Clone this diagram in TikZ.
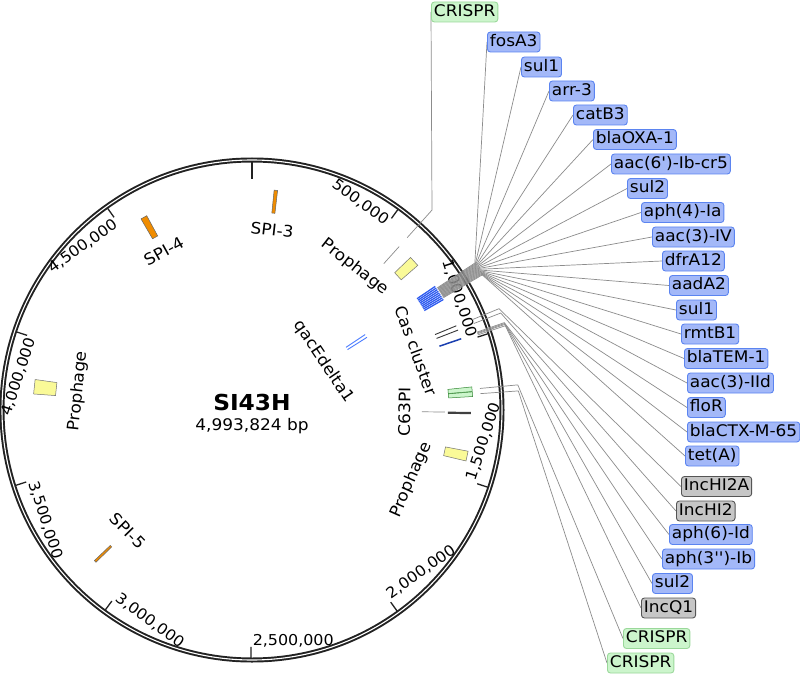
\documentclass[tikz,border=0pt]{standalone}
\usepackage{fontspec}
\newfontfamily\lab[FakeStretch=1.06]{DejaVu Sans}
\pgfdeclarelayer{ringlayer}
\pgfdeclarelayer{leaders}
\pgfsetlayers{ringlayer,leaders,main}
\definecolor{amrfill}{HTML}{A3B8F8}
\definecolor{amrdraw}{HTML}{5B84F0}
\definecolor{repfill}{HTML}{C6C6C6}
\definecolor{repdraw}{HTML}{555555}
\definecolor{crfill}{HTML}{CCF5CC}
\definecolor{crdraw}{HTML}{9AD89A}
\definecolor{spi}{HTML}{F08C00}
\definecolor{proph}{HTML}{FAFA98}
\definecolor{casblue}{HTML}{2E5BF0}
\definecolor{qacblue}{HTML}{4A7CFF}
\definecolor{darkblue}{HTML}{1A3FB0}
\definecolor{leadgray}{HTML}{8C8C8C}
\definecolor{ringblack}{HTML}{222222}
\newcommand{\radbox}[5]{\filldraw[#1] ({90-(#2)+(#3)}:#4) -- ({90-(#2)+(#3)}:#5) -- ({90-(#2)-(#3)}:#5) -- ({90-(#2)-(#3)}:#4) -- cycle;}
\newcommand{\radline}[4]{\draw[#1] ({90-(#2)}:#3) -- ({90-(#2)}:#4);}
\tikzset{
  lbox/.style={font=\lab\fontsize{16}{19}\selectfont, rounded corners=3pt, line width=0.9pt,
    inner xsep=2.5pt, inner ysep=0pt, minimum height=20pt, anchor=west, text height=12pt, text depth=3.5pt},
  amr/.style={lbox, fill=amrfill, draw=amrdraw},
  rep/.style={lbox, fill=repfill, draw=repdraw},
  cris/.style={lbox, fill=crfill, draw=crdraw},
  ticklab/.style={font=\lab\fontsize{15}{18}\selectfont, inner xsep=1.5pt, inner ysep=0pt, text height=11pt, text depth=3pt},
  featlab/.style={font=\lab\fontsize{16}{19}\selectfont, inner sep=0pt, text height=12pt, text depth=3.5pt},
  leader/.style={draw=leadgray, line width=0.7pt},
  spibox/.style={fill=spi, draw=black!60, line width=0.5pt},
  prophbox/.style={fill=proph, draw=black!55, line width=0.5pt},
  crbox/.style={fill=crfill, draw=black!45!green!60!gray, line width=0.5pt},
}
\begin{document}
\begin{tikzpicture}[x=1pt,y=1pt]
\useasboundingbox (-252,-265) rectangle (548,410);
\begin{pgfonlayer}{ringlayer}
  \fill[white] (-252,-265) rectangle (548,410);
  % backbone ring
  \draw[line width=5pt, ringblack] (0,0) circle[radius=250];
  \draw[line width=1.1pt, white] (0,0) circle[radius=250];
  % ticks
  \draw[line width=2.4pt, ringblack] (90:231) -- (90:249);
  \foreach \k in {1,...,9}{
    \pgfmathsetmacro\ang{\k*36.04452}
    \draw[line width=1.3pt, ringblack] ({90-\ang}:237) -- ({90-\ang}:248);
  }
  % tick labels
  \node[ticklab, anchor=east, rotate=-36.045] (t1) at ({90-36.045}:231) {500,000};
  \node[ticklab, anchor=east, rotate=-72.09] (t2) at ({90-72.09}:231) {1,000,000};
  \node[ticklab, anchor=west, rotate=71.87] (t3) at ({90-108.13}:231) {1,500,000};
  \node[ticklab, anchor=west, rotate=35.82] (t4) at ({90-144.18}:231) {2,000,000};
  \node[ticklab, anchor=west, rotate=-0.22] (t5) at ({90-180.22}:231) {2,500,000};
  \node[ticklab, anchor=west, rotate=-36.27] (t6) at ({90-216.27}:231) {3,000,000};
  \node[ticklab, anchor=west, rotate=-72.31] (t7) at ({90-252.31}:231) {3,500,000};
  \node[ticklab, anchor=east, rotate=71.64] (t8) at ({90-288.36}:231) {4,000,000};
  \node[ticklab, anchor=east, rotate=35.6] (t9) at ({90-324.4}:231) {4,500,000};
  % features
  \radbox{spibox}{6.2}{0.45}{198}{221}
  \radbox{spibox}{330.7}{0.85}{198}{221}
  \radbox{spibox}{226}{0.3}{196}{218}
  \radbox{prophbox}{276.1}{1.9}{197}{219}
  \radbox{prophbox}{47.5}{1.4}{198}{220}
  \radbox{prophbox}{102.1}{1.3}{197}{220}
  \foreach \a in {56.0,56.5,...,60.0}{\radline{casblue, line width=1.3pt}{\a}{199}{221}}
  \radline{black!78, line width=0.9pt}{67.6}{198}{221}
  \radline{black!78, line width=0.9pt}{68.8}{198}{221}
  \radline{darkblue, line width=1.5pt}{71.2}{198}{221}
  \radline{qacblue, line width=0.9pt}{56.3}{113}{136}
  \radline{qacblue, line width=0.9pt}{57.7}{113}{136}
  \radbox{crbox}{84.6}{0.6}{197}{221}
  \radbox{crbox}{85.9}{0.6}{197}{221}
  \radline{black!75, line width=2.2pt}{90.8}{196}{219}
  \radline{leadgray, line width=0.7pt}{42}{197}{220}
  \radline{leadgray, line width=0.7pt}{90.6}{170}{193}
  % feature labels
  \node[featlab, rotate=-6.4] (lspi3) at ({90-6.4}:179.6) {SPI-3};
  \node[featlab, rotate=29.05] (lspi4) at ({90-330.95}:180) {SPI-4};
  \node[featlab, rotate=83.8] (lpro1) at ({90-276.2}:174.5) {Prophage};
  \node[featlab, rotate=-45.7] (lspi5) at ({90-225.7}:175) {SPI-5};
  \node[featlab, rotate=-38] (lpro2) at ({90-35.8}:176) {Prophage};
  \node[featlab, rotate=-70.1] (lcas) at ({90-70.1}:173) {Cas cluster};
  \node[featlab, rotate=89.3] (lc63) at ({90-90.7}:154) {C63PI};
  \node[featlab, rotate=66.3] (lpro3) at ({90-113.7}:174) {Prophage};
  \node[featlab, rotate=-56] (lqac) at ({90-56}:86) {qacEdelta1};
  % title
  \node[font=\lab\bfseries\fontsize{22}{26}\selectfont, inner sep=0pt] (title) at (0,7.5) {SI43H};
  \node[font=\lab\fontsize{16}{19}\selectfont, inner sep=0pt, anchor=base] (size) at (0,-20) {4,993,824 bp};
\end{pgfonlayer}
% right-hand labels
\node[cris] (cr1) at (179,398) {CRISPR};
\node[amr] (fosA) at (235,368) {fosA3};
\node[amr] (sulA) at (269,343) {sul1};
\node[amr] (arr) at (297,319) {arr-3};
\node[amr] (cat) at (321,295) {catB3};
\node[amr] (oxa) at (341,270.5) {blaOXA-1};
\node[amr] (aacsix) at (359,246) {aac(6')-Ib-cr5};
\node[amr] (sulB) at (375,221.5) {sul2};
\node[amr] (aphfour) at (389,197.5) {aph(4)-Ia};
\node[amr] (aacIV) at (400,173) {aac(3)-IV};
\node[amr] (dfr) at (410,149) {dfrA12};
\node[amr] (aad) at (417,124.5) {aadA2};
\node[amr] (sulC) at (424,100) {sul1};
\node[amr] (rmt) at (429,76) {rmtB1};
\node[amr] (tem) at (432,51.5) {blaTEM-1};
\node[amr] (aacIId) at (435,27) {aac(3)-IId};
\node[amr] (flo) at (435,2.5) {floR};
\node[amr] (ctx) at (435,-22) {blaCTX-M-65};
\node[amr] (tet) at (433,-46) {tet(A)};
\node[rep] (hia) at (429,-76.5) {IncHI2A};
\node[rep] (hib) at (424,-101) {IncHI2};
\node[amr] (aphsix) at (417,-124.5) {aph(6)-Id};
\node[amr] (aphthree) at (410,-149) {aph(3'')-Ib};
\node[amr] (sulD) at (400,-173.5) {sul2};
\node[rep] (incq) at (389,-198) {IncQ1};
\node[cris] (cr2) at (371,-228.5) {CRISPR};
\node[cris] (cr3) at (355,-253) {CRISPR};
% leader lines
\begin{pgfonlayer}{leaders}
  \coordinate (s-cr1) at ({90-42}:232);
  \coordinate (k-cr1) at ({90-42}:269);
  \draw[leader] (s-cr1) -- (k-cr1) -- (cr1.west);
  \foreach \nm/\a in {fosA/56.6, sulA/56.78, arr/56.95, cat/57.13, oxa/57.31, aacsix/57.48,
      sulB/57.66, aphfour/57.84, aacIV/58.01, dfr/58.19, aad/58.37, sulC/58.54, rmt/58.72,
      tem/58.9, aacIId/59.07, flo/59.25, ctx/59.43, tet/59.6}{
    \coordinate (s-\nm) at ({90-\a}:222);
    \coordinate (k-\nm) at ({90-\a}:267);
    \draw[leader] (s-\nm) -- (k-\nm) -- (\nm.west);
  }
  \foreach \nm/\a in {hia/67.7, hib/68.7, aphsix/70.9, aphthree/71.1, sulD/71.3, incq/71.6}{
    \coordinate (s-\nm) at ({90-\a}:238);
    \coordinate (k-\nm) at ({90-\a}:267);
    \draw[leader] (s-\nm) -- (k-\nm) -- (\nm.west);
  }
  \foreach \nm/\a in {cr2/84.6, cr3/85.9}{
    \coordinate (s-\nm) at ({90-\a}:229);
    \coordinate (k-\nm) at ({90-\a}:267);
    \draw[leader] (s-\nm) -- (k-\nm) -- (\nm.west);
  }
\end{pgfonlayer}
\end{tikzpicture}
\end{document}
